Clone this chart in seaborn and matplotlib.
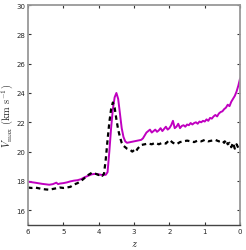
import matplotlib
matplotlib.use("Agg")
import matplotlib.pyplot as plt
import seaborn as sns
import pandas as pd

# magenta series
z_m = [6.0, 5.8, 5.6, 5.4, 5.3, 5.2, 5.15, 5.1, 5.0, 4.9, 4.8, 4.7, 4.6, 4.5, 4.4, 4.3, 4.2, 4.1, 4.0,
       3.9, 3.8, 3.75, 3.7, 3.65, 3.6, 3.55, 3.5, 3.45, 3.4, 3.35, 3.3, 3.25, 3.2, 3.1, 3.0, 2.9, 2.8,
       2.75, 2.7, 2.65, 2.6, 2.55, 2.5, 2.45, 2.4, 2.35, 2.3, 2.25, 2.2, 2.15, 2.1, 2.05, 2.0, 1.95,
       1.9, 1.85, 1.8, 1.75, 1.7, 1.65, 1.6, 1.55, 1.5, 1.45, 1.4, 1.35, 1.3, 1.25, 1.2, 1.15, 1.1,
       1.05, 1.0, 0.95, 0.9, 0.85, 0.8, 0.75, 0.7, 0.65, 0.6, 0.55, 0.5, 0.45, 0.4, 0.35, 0.3, 0.25,
       0.2, 0.15, 0.1, 0.05, 0.0]
v_m = [17.95, 17.88, 17.8, 17.74, 17.78, 17.88, 17.78, 17.82, 17.85, 17.9, 17.97, 18.02, 18.05, 18.12,
       18.25, 18.35, 18.45, 18.48, 18.45, 18.4, 18.42, 18.6, 20.0, 21.6, 22.9, 23.7, 24.0, 23.6, 22.6,
       21.6, 21.0, 20.7, 20.6, 20.65, 20.7, 20.75, 20.8, 20.9, 21.1, 21.3, 21.4, 21.5, 21.3, 21.4, 21.5,
       21.35, 21.45, 21.6, 21.4, 21.55, 21.7, 21.5, 21.6, 21.8, 22.1, 21.6, 21.7, 21.9, 21.6, 21.75,
       21.8, 21.7, 21.85, 21.8, 21.95, 21.85, 21.95, 22.0, 21.9, 22.05, 22.0, 22.1, 22.05, 22.2, 22.1,
       22.3, 22.25, 22.4, 22.5, 22.4, 22.6, 22.7, 22.75, 22.9, 23.0, 23.2, 23.1, 23.4, 23.6, 23.8, 24.1,
       24.5, 25.0]

# black dashed series
z_k = [6.0, 5.9, 5.8, 5.7, 5.6, 5.5, 5.4, 5.3, 5.2, 5.1, 5.0, 4.9, 4.8, 4.7, 4.6, 4.5, 4.4, 4.3, 4.2,
       4.1, 4.0, 3.95, 3.9, 3.85, 3.8, 3.75, 3.7, 3.65, 3.6, 3.55, 3.5, 3.45, 3.4, 3.35, 3.3, 3.2, 3.1,
       3.05, 3.0, 2.95, 2.9, 2.8, 2.7, 2.6, 2.5, 2.4, 2.3, 2.2, 2.1, 2.0, 1.9, 1.8, 1.7, 1.6, 1.5, 1.4,
       1.3, 1.2, 1.1, 1.0, 0.9, 0.8, 0.7, 0.6, 0.5, 0.45, 0.4, 0.35, 0.3, 0.25, 0.2, 0.15, 0.1, 0.05, 0.0]
v_k = [17.55, 17.52, 17.55, 17.5, 17.45, 17.42, 17.4, 17.45, 17.5, 17.55, 17.52, 17.55, 17.6, 17.75,
       17.85, 18.0, 18.2, 18.4, 18.55, 18.5, 18.4, 18.45, 18.35, 18.5, 19.5, 20.8, 22.0, 22.9, 23.35,
       23.0, 22.2, 21.5, 21.0, 20.6, 20.4, 20.2, 20.1, 20.0, 20.1, 20.0, 20.2, 20.45, 20.5, 20.55, 20.5,
       20.6, 20.5, 20.6, 20.55, 20.8, 20.6, 20.5, 20.65, 20.7, 20.75, 20.7, 20.65, 20.75, 20.7, 20.8,
       20.7, 20.75, 20.8, 20.7, 20.75, 20.6, 20.8, 20.5, 20.6, 20.3, 20.6, 20.2, 20.5, 20.25, 20.4]

x_ticks = [6, 5, 4, 3, 2, 1, 0]
y_ticks = [16, 18, 20, 22, 24, 26, 28, 30]

sns.set_style("white")
plt.rcParams["mathtext.fontset"] = "cm"

fig = plt.figure(figsize=(2.46, 2.51), dpi=100)
ax = fig.add_axes([0.114, 0.1, 0.862, 0.876])

df_m = pd.DataFrame({"z": z_m, "v": v_m})
df_k = pd.DataFrame({"z": z_k, "v": v_k})
sns.lineplot(data=df_m, x="z", y="v", ax=ax, color="#c000c0", lw=1.4, estimator=None, sort=False)
sns.lineplot(data=df_k, x="z", y="v", ax=ax, color="black", lw=1.6, estimator=None, sort=False,
             linestyle=(0, (2, 1.6)))

ax.set_xlim(6, 0)
ax.set_ylim(15, 30)
ax.set_xticks(x_ticks)
ax.set_yticks(y_ticks)
ax.set_xticklabels([str(t) for t in x_ticks])
ax.set_yticklabels([str(t) for t in y_ticks])
ax.tick_params(direction="in", length=2.5, width=0.8, labelsize=5, top=True, right=True,
               bottom=True, left=True, pad=2, color="#333333")
for side, s in ax.spines.items():
    s.set_color("#999999")
    s.set_linewidth(1.3)
ax.spines["bottom"].set_color("#444444")
ax.spines["bottom"].set_linewidth(1.0)

ax.set_xlabel(r"$z$", fontsize=7.5, labelpad=3)
ax.set_ylabel(r"$V_{\rm max}\ \rm (km\ s^{-1})$", fontsize=7.5, labelpad=1)

fig.savefig("out.png", dpi=100)
